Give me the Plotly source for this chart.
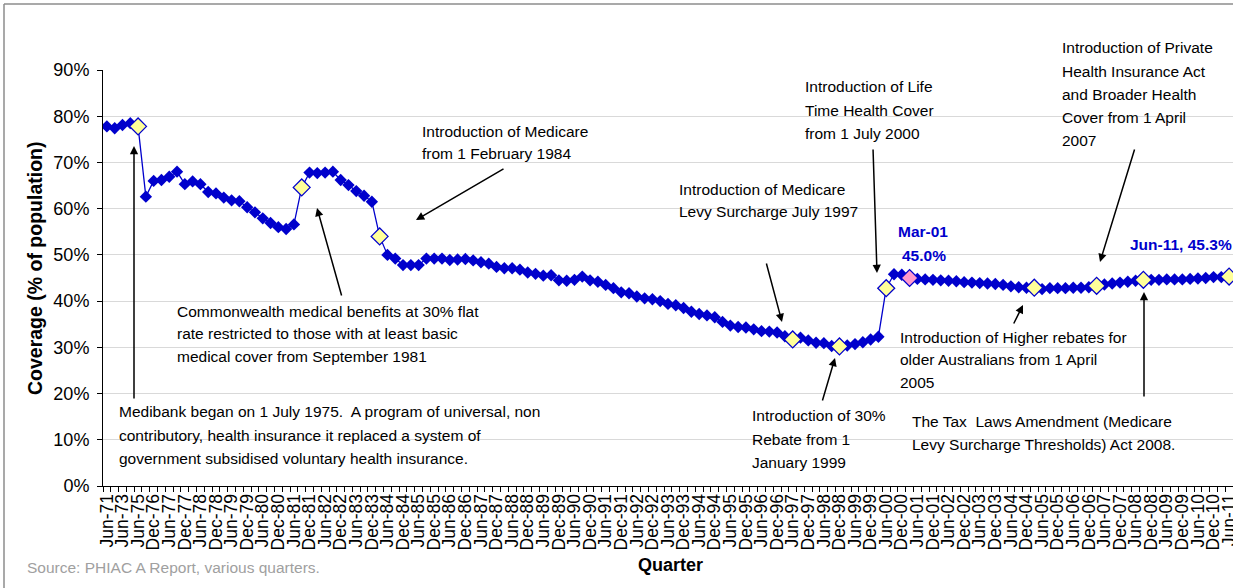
import plotly.graph_objects as go

# ---------------- data ----------------
early_quarters = ["Jun-71", "Jun-72", "Jun-73", "Jun-74", "Jun-75", "Jun-76"]
months = ["Mar", "Jun", "Sep", "Dec"]
quarters = list(early_quarters)
quarters.append("Dec-76")
for yr in range(1977, 2012):
    for m in months:
        lab = f"{m}-{yr % 100:02d}"
        quarters.append(lab)
        if lab == "Jun-11":
            break
quarters = quarters[:145]

coverage = [
    77.8, 77.4, 78.1, 78.5, 77.8,
    62.6, 66.0, 66.2, 66.9, 68.0,
    65.3, 65.9, 65.3, 63.6, 63.3,
    62.4, 61.8, 61.6, 60.3, 59.2,
    57.9, 56.9, 56.0, 55.6, 56.6,
    64.6, 67.8, 67.7, 67.8, 68.0,
    66.2, 65.1, 63.8, 62.8, 61.5,
    54.0, 50.0, 49.2, 47.8, 47.8,
    47.8, 49.2, 49.2, 49.2, 48.9,
    49.0, 49.1, 48.8, 48.4, 48.1,
    47.4, 47.1, 47.1, 46.8, 46.2,
    45.9, 45.5, 45.6, 44.5, 44.4,
    44.6, 45.3, 44.5, 44.2, 43.5,
    42.8, 41.9, 41.7, 41.0, 40.6,
    40.4, 40.0, 39.4, 39.1, 38.5,
    37.7, 37.2, 36.9, 36.5, 35.5,
    34.7, 34.4, 34.3, 33.9, 33.5,
    33.4, 33.2, 32.4, 31.7, 32.1,
    31.5, 31.0, 30.9, 30.3, 30.2,
    30.4, 30.7, 31.1, 31.7, 32.3,
    42.8, 45.8, 45.7, 45.0, 44.8,
    44.7, 44.6, 44.5, 44.4, 44.3,
    44.1, 44.0, 43.9, 43.8, 43.7,
    43.5, 43.2, 43.0, 42.9, 42.9,
    42.6, 42.8, 42.8, 42.8, 42.9,
    42.9, 43.0, 43.3, 43.6, 43.8,
    44.0, 44.2, 44.4, 44.6, 44.6,
    44.6, 44.7, 44.7, 44.7, 44.8,
    44.9, 45.0, 45.2, 45.2, 45.3,
]

policy_quarters = ["Jun-75", "Sep-81", "Mar-84", "Jun-97", "Dec-98",
                   "Jun-00", "Mar-05", "Mar-07", "Sep-08", "Jun-11"]
peak_quarter = ["Mar-01"]

tick_labels = [q if i % 2 == 0 else "" for i, q in enumerate(quarters)]

# ---------------- layout constants ----------------
W, H = 1233, 588
L, R, T, B = 103, 0, 70, 102
PW, PH = W - L - R, H - T - B
FONT = "Liberation Sans, Arial, sans-serif"
BLUE = "#0000CC"


def px(x):
    return (x - L) / PW


def py(y):
    return (H - B - y) / PH


lookup = dict(zip(quarters, coverage))

fig = go.Figure()
fig.add_trace(go.Scatter(
    x=quarters, y=coverage, mode="lines+markers",
    line=dict(color=BLUE, width=1.3),
    marker=dict(symbol="diamond", size=9.5, color=BLUE, line=dict(width=0)),
    showlegend=False, hoverinfo="x+y"))
fig.add_trace(go.Scatter(
    x=policy_quarters, y=[lookup[q] for q in policy_quarters], mode="markers",
    marker=dict(symbol="diamond", size=13, color="#FFFF99",
                line=dict(color=BLUE, width=1.3)),
    showlegend=False, cliponaxis=False))
fig.add_trace(go.Scatter(
    x=peak_quarter, y=[lookup[q] for q in peak_quarter], mode="markers",
    marker=dict(symbol="diamond", size=13, color="#FF99CC",
                line=dict(color=BLUE, width=1.3)),
    showlegend=False))

shapes = []
# chart-area frame (left & top edges visible)
shapes.append(dict(type="line", xref="paper", yref="paper",
                   x0=px(4), x1=px(4), y0=py(4), y1=py(600),
                   line=dict(color="#8C8C8C", width=1.5)))
shapes.append(dict(type="line", xref="paper", yref="paper",
                   x0=px(4), x1=px(1240), y0=py(4), y1=py(4),
                   line=dict(color="#8C8C8C", width=1.5)))

# white text-box backgrounds (hide gridlines)
boxes = [
    (413, 118, 602, 168), (170, 292, 503, 396), (110, 398, 545, 470),
    (670, 176, 862, 224), (797, 74, 935, 146), (1053, 36, 1211, 152),
    (892, 325, 1135, 396), (900, 408, 1185, 456), (745, 402, 893, 474),
    (895, 222, 952, 265), (1125, 234, 1240, 256),
]
for x0, y0, x1, y1 in boxes:
    shapes.append(dict(type="rect", xref="paper", yref="paper", layer="between",
                       x0=px(x0), x1=px(x1), y0=py(y1), y1=py(y0),
                       fillcolor="white", line=dict(width=0)))

annotations = []
text_blocks = [
    (420, [131, 154], ["Introduction of Medicare", "from 1 February 1984"]),
    (175, [311, 333, 356], ["Commonwealth medical benefits at 30% flat",
                            "rate restricted to those with at least basic",
                            "medical cover from September 1981"]),
    (117, [411, 435, 458], ["Medibank began on 1 July 1975.  A program of universal, non",
                            "contributory, health insurance it replaced a system of",
                            "government subsidised voluntary health insurance."]),
    (677, [189, 211], ["Introduction of Medicare", "Levy Surcharge July 1997"]),
    (803, [87, 110, 133], ["Introduction of Life", "Time Health Cover", "from 1 July 2000"]),
    (1060, [48, 71, 94, 117, 140], ["Introduction of Private", "Health Insurance Act",
                                    "and Broader Health", "Cover from 1 April", "2007"]),
    (898, [337, 359, 382], ["Introduction of Higher rebates for",
                            "older Australians from 1 April", "2005"]),
    (910, [421, 444], ["The Tax  Laws Amendment (Medicare",
                       "Levy Surcharge Thresholds) Act 2008."]),
    (750, [415, 439, 462], ["Introduction of 30%", "Rebate from 1", "January 1999"]),
]
for x, ys, lines in text_blocks:
    for yy, t in zip(ys, lines):
        annotations.append(dict(x=px(x), y=py(yy), xref="paper", yref="paper",
                                xanchor="left", yanchor="middle", showarrow=False,
                                text=t, font=dict(family=FONT, size=15.5, color="black")))

# value call-outs
annotations.append(dict(x=px(923), y=py(232), xref="paper", yref="paper",
                        xanchor="center", yanchor="middle", showarrow=False,
                        text="<b>Mar-01</b>", font=dict(family=FONT, size=15.5, color=BLUE)))
annotations.append(dict(x=px(924), y=py(255), xref="paper", yref="paper",
                        xanchor="center", yanchor="middle", showarrow=False,
                        text="<b>45.0%</b>", font=dict(family=FONT, size=15.5, color=BLUE)))
annotations.append(dict(x=px(1128), y=py(245), xref="paper", yref="paper",
                        xanchor="left", yanchor="middle", showarrow=False,
                        text="<b>Jun-11, 45.3%</b>", font=dict(family=FONT, size=15.5, color=BLUE)))

# arrows: (tail_x, tail_y, head_x, head_y) in pixels
arrows = [
    (134, 400, 134, 146), (342, 297, 317, 208), (505, 168, 416, 220),
    (766, 262, 782, 322), (873, 148, 877, 273), (822, 402, 835, 358),
    (1013, 325, 1023, 305), (1135, 148, 1100, 262), (1144, 398, 1144, 292),
]
for tx, ty, hx, hy in arrows:
    annotations.append(dict(x=px(hx), y=py(hy), xref="paper", yref="paper",
                            ax=tx - hx, ay=ty - hy, text="", showarrow=True,
                            arrowhead=2, arrowsize=1.1, arrowwidth=1.5,
                            arrowcolor="black"))

# titles and source
annotations.append(dict(x=px(670), y=py(577), xref="paper", yref="paper",
                        showarrow=False, text="<b>Quarter</b>",
                        font=dict(family=FONT, size=18, color="black")))
annotations.append(dict(x=px(22), y=py(268), xref="paper", yref="paper",
                        showarrow=False, textangle=-90,
                        text="<b>Coverage (% of population)</b>",
                        font=dict(family=FONT, size=19.5, color="black")))
annotations.append(dict(x=px(25), y=py(578), xref="paper", yref="paper",
                        xanchor="left", showarrow=False,
                        text="Source: PHIAC A Report, various quarters.",
                        font=dict(family=FONT, size=15.5, color="#A0A0A0")))

fig.update_layout(
    width=W, height=H,
    margin=dict(l=L, r=R, t=T, b=B, autoexpand=False),
    paper_bgcolor="white", plot_bgcolor="white",
    font=dict(family=FONT, color="black"),
    shapes=shapes, annotations=annotations,
    xaxis=dict(type="category", range=[-0.5, len(quarters) - 0.5],
               tickmode="array", tickvals=quarters, ticktext=tick_labels,
               tickangle=-90, tickfont=dict(size=17.5, family=FONT, color="black"),
               ticks="outside", ticklen=5, tickcolor="black", tickson="boundaries",
               showline=True, linecolor="black", linewidth=1,
               showgrid=False, automargin=False),
    yaxis=dict(range=[0, 90], dtick=10, ticksuffix="%",
               tickfont=dict(size=18, family=FONT, color="black"),
               ticks="outside", ticklen=5, tickcolor="black", ticklabelstandoff=4,
               showline=True, linecolor="black", linewidth=1,
               showgrid=True, gridcolor="#D9D9D9", gridwidth=1,
               zeroline=False, automargin=False),
)

fig.write_html(
    "out.html",
    config={"displayModeBar": False},
    post_script="document.body.style.margin='0px';document.body.style.overflow='hidden';",
)
